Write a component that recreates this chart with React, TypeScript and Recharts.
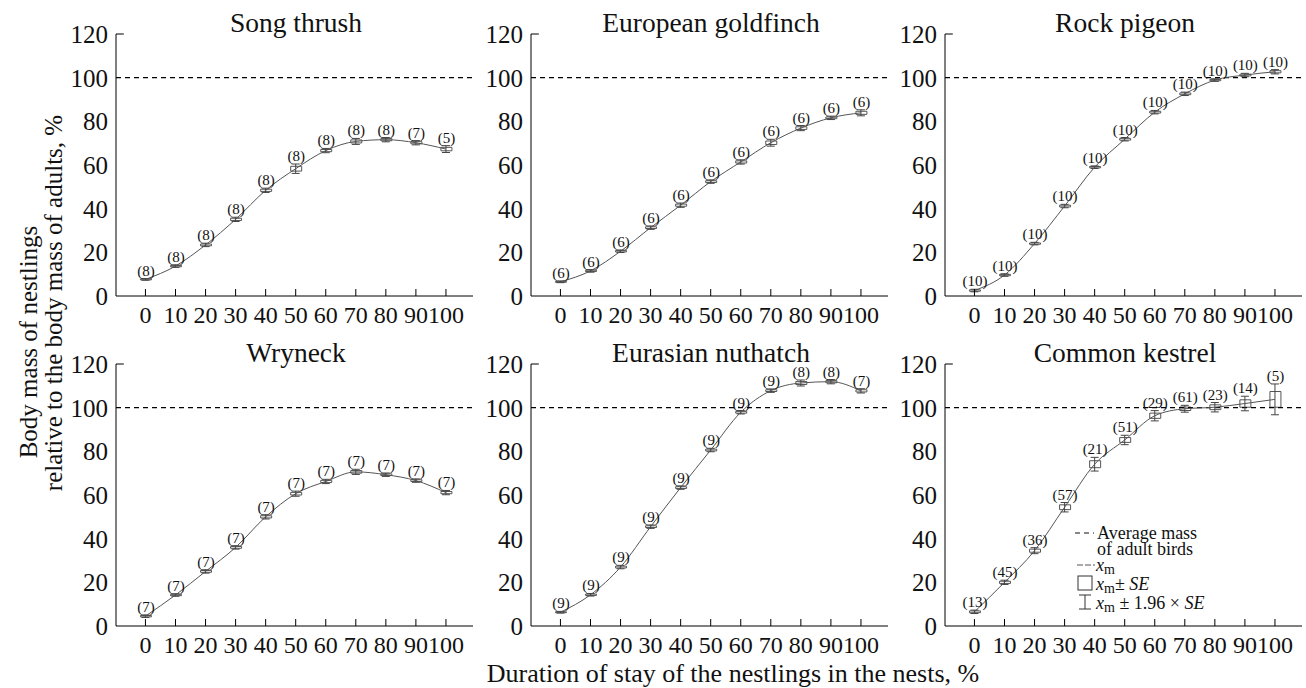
import React from 'react';
import {
  ComposedChart, Line, Bar, XAxis, YAxis, ReferenceLine, ErrorBar, LabelList
} from 'recharts';

const stages = [0, 10, 20, 30, 40, 50, 60, 70, 80, 90, 100];
const yTicks = [0, 20, 40, 60, 80, 100, 120];

// mean body mass of nestlings, % of adult mass
const thrushMean = [7.6, 13.7, 23.4, 35.1, 48.4, 58.3, 66.6, 70.8, 71.6, 70.2, 67.3];
const thrushSE = [0.2, 0.3, 0.4, 0.5, 0.5, 1.1, 0.5, 0.7, 0.5, 0.5, 0.8];
const thrushN = [8, 8, 8, 8, 8, 8, 8, 8, 8, 7, 5];

const goldfinchMean = [6.5, 11.5, 20.5, 31.3, 41.6, 52.4, 61.4, 70.2, 76.9, 81.6, 83.9];
const goldfinchSE = [0.2, 0.3, 0.3, 0.4, 0.5, 0.4, 0.5, 0.8, 0.6, 0.4, 0.7];
const goldfinchN = [6, 6, 6, 6, 6, 6, 6, 6, 6, 6, 6];

const pigeonMean = [2.5, 9.6, 24.0, 41.2, 59.0, 71.8, 84.2, 92.6, 98.9, 101.2, 102.7];
const pigeonSE = [0.3, 0.3, 0.3, 0.4, 0.3, 0.4, 0.4, 0.4, 0.3, 0.4, 0.5];
const pigeonN = [10, 10, 10, 10, 10, 10, 10, 10, 10, 10, 10];

const wryneckMean = [4.5, 14.2, 25.0, 36.0, 50.0, 60.6, 66.2, 70.6, 69.3, 66.6, 61.1];
const wryneckSE = [0.3, 0.3, 0.4, 0.4, 0.5, 0.6, 0.5, 0.6, 0.4, 0.4, 0.5];
const wryneckN = [7, 7, 7, 7, 7, 7, 7, 7, 7, 7, 7];

const nuthatchMean = [6.3, 14.3, 27.0, 45.5, 63.4, 80.6, 97.9, 107.8, 111.3, 111.9, 107.7];
const nuthatchSE = [0.2, 0.3, 0.4, 0.4, 0.4, 0.4, 0.4, 0.4, 0.7, 0.5, 0.5];
const nuthatchN = [9, 9, 9, 9, 9, 9, 9, 9, 8, 8, 7];

const kestrelMean = [6.5, 20.0, 34.5, 54.4, 74.1, 85.2, 96.3, 99.5, 100.2, 101.9, 103.8];
const kestrelSE = [0.4, 0.5, 0.7, 1.1, 1.6, 1.1, 1.2, 0.8, 1.1, 1.7, 3.6];
const kestrelN = [13, 45, 36, 57, 21, 51, 29, 61, 23, 14, 5];

const FONT = '"Liberation Serif", "Times New Roman", serif';
const xDomain: [number, number] = [-9.8, 109];

const build = (mean: number[], se: number[], n: number[]) =>
  stages.map((x, i) => {
    const ci = 1.96 * se[i];
    return {
      x,
      mean: mean[i],
      box: [mean[i] - se[i], mean[i] + se[i]],
      ci,
      span: [mean[i] - ci, mean[i] + ci],
      n: n[i],
    };
  });

interface PanelProps {
  title: string;
  data: ReturnType<typeof build>;
  left: number;
  top: number;
}

const tickStyle = { fontSize: 24, fill: '#111' };

const Panel: React.FC<PanelProps> = ({ title, data, left, top }) => (
  <>
    <div
      style={{
        position: 'absolute', left: left + 86, top: top + 9, width: 300,
        textAlign: 'center', fontSize: 27.5, lineHeight: 1, color: '#111'
      }}
    >
      {title}
    </div>
    <div style={{ position: 'absolute', left, top }}>
      <ComposedChart
        width={415}
        height={330}
        data={data}
        margin={{ top: 34, right: 2, bottom: 4, left: 0 }}
      >
        <XAxis
          dataKey="x"
          type="number"
          domain={xDomain}
          ticks={stages}
          interval={0}
          allowDataOverflow
          height={30}
          stroke="#000"
          tickSize={-7}
          tickMargin={17}
          tick={tickStyle}
        />
        <XAxis xAxisId="lbl" dataKey="x" type="number" domain={xDomain} ticks={stages} hide />
        <YAxis
          type="number"
          domain={[0, 120]}
          ticks={yTicks}
          interval={0}
          allowDataOverflow
          width={56}
          stroke="#000"
          tickLine={false}
          tickSize={0}
          tickMargin={8}
          tick={{ fontSize: 25, fill: '#111' }}
        />
        <ReferenceLine
          segment={[{ x: -9.8, y: 120 }, { x: -7.2, y: 120 }]}
          stroke="#000"
          ifOverflow="visible"
        />
        <ReferenceLine y={100} stroke="#000" strokeDasharray="5 4" strokeWidth={1.2} />
        <Bar
          xAxisId="lbl"
          dataKey="span"
          barSize={11}
          fill="transparent"
          isAnimationActive={false}
        >
          <LabelList
            dataKey="n"
            position="top"
            offset={3}
            formatter={(v: number) => `(${v})`}
            fill="#111"
            fontSize={15}
          />
        </Bar>
        <Bar
          dataKey="box"
          barSize={11}
          fill="none"
          stroke="#555"
          strokeWidth={1}
          isAnimationActive={false}
        />
        <Line
          type="monotone"
          dataKey="mean"
          stroke="#555"
          strokeWidth={1}
          dot={false}
          isAnimationActive={false}
        >
          <ErrorBar dataKey="ci" width={4} stroke="#444" strokeWidth={1} />
        </Line>
      </ComposedChart>
    </div>
  </>
);

const sub = { fontSize: 14, fontStyle: 'normal' as const, verticalAlign: '-3px' };

const KestrelLegend = () => {
  const row = (topPx: number, leftPx: number, content: React.ReactNode) => (
    <div
      style={{
        position: 'absolute', left: leftPx, top: topPx - 8, height: 16, lineHeight: '16px',
        fontSize: 18, color: '#111', whiteSpace: 'nowrap'
      }}
    >
      {content}
    </div>
  );
  return (
    <>
      <svg style={{ position: 'absolute', left: 1074, top: 520 }} width={24} height={95}>
        <line x1={1} y1={13} x2={20} y2={13} stroke="#111" strokeDasharray="5 4" />
        <line x1={3} y1={45} x2={21} y2={45} stroke="#555" strokeDasharray="6 2" />
        <rect x={4} y={56} width={14} height={14} fill="none" stroke="#333" />
        <line x1={11} y1={75} x2={11} y2={89} stroke="#333" />
        <line x1={5} y1={75} x2={17} y2={75} stroke="#333" />
        <line x1={5} y1={89} x2={17} y2={89} stroke="#333" />
      </svg>
      {row(533, 1097, 'Average mass')}
      {row(549, 1097, 'of adult birds')}
      {row(565, 1096, <span><i>x</i><span style={sub}>m</span></span>)}
      {row(584, 1096, <span><i>x</i><span style={sub}>m</span>± <i>SE</i></span>)}
      {row(603, 1096, <span><i>x</i><span style={sub}>m</span> ± 1.96 × <i>SE</i></span>)}
    </>
  );
};

const App: React.FC = () => (
  <div
    style={{
      position: 'absolute', left: 0, top: 0, width: 1306, height: 688,
      background: '#fff', fontFamily: FONT
    }}
  >
    <Panel title="Song thrush" data={build(thrushMean, thrushSE, thrushN)} left={60} top={0} />
    <Panel title="European goldfinch" data={build(goldfinchMean, goldfinchSE, goldfinchN)} left={475} top={0} />
    <Panel title="Rock pigeon" data={build(pigeonMean, pigeonSE, pigeonN)} left={889} top={0} />
    <Panel title="Wryneck" data={build(wryneckMean, wryneckSE, wryneckN)} left={60} top={330} />
    <Panel title="Eurasian nuthatch" data={build(nuthatchMean, nuthatchSE, nuthatchN)} left={475} top={330} />
    <Panel title="Common kestrel" data={build(kestrelMean, kestrelSE, kestrelN)} left={889} top={330} />
    <KestrelLegend />
    <svg style={{ position: 'absolute', left: 0, top: 0 }} width={80} height={688}>
      <text
        transform="translate(37,342) rotate(-90)"
        textAnchor="middle"
        style={{ fontFamily: FONT, fontSize: 25 }}
        fill="#111"
      >
        Body mass of nestlings
      </text>
      <text
        transform="translate(62,303) rotate(-90)"
        textAnchor="middle"
        style={{ fontFamily: FONT, fontSize: 25 }}
        fill="#111"
      >
        relative to the body mass of adults, %
      </text>
    </svg>
    <div
      style={{
        position: 'absolute', left: 433, top: 661, width: 600, textAlign: 'center',
        fontSize: 26, lineHeight: 1, color: '#111'
      }}
    >
      Duration of stay of the nestlings in the nests, %
    </div>
  </div>
);

export default App;
